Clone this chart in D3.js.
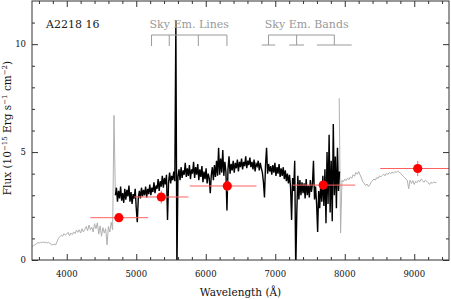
<!DOCTYPE html>
<html>
<head>
<meta charset="utf-8">
<script src="https://cdn.jsdelivr.net/npm/d3@7"></script>
<style>
  body { margin: 0; background: #fff; }
  svg { display: block; }
  text { font-family: "DejaVu Serif", serif; }
</style>
</head>
<body>
<div id="chart"></div>
<script>
// Gray spectrum, blue side (start 3500 A, step 20 A)
const blueStart = 3500, blueStep = 20;
const blueFlux = [0.62, 0.66, 0.70, 0.74, 0.80, 0.78, 0.82, 0.80, 0.84, 0.80,
  0.83, 0.79, 0.82, 0.76, 0.72, 0.70, 0.73, 0.70, 0.85, 1.00,
  1.08, 1.15, 1.10, 1.22, 1.15, 1.20, 1.28, 1.12, 1.25, 1.18,
  1.30, 1.22, 1.38, 1.28, 1.40, 1.25, 1.45, 1.30, 1.42, 1.55,
  1.35, 1.62, 1.40, 1.52, 1.30, 1.68, 1.45, 1.72, 1.20, 1.58,
  1.10, 1.50, 1.25, 1.45, 0.70, 1.55, 1.30, 1.75, 1.40, 6.70, 3.00];

// Black spectrum (start 4700 A, step 15 A)
const mainStart = 4700, mainStep = 15;
const mainFlux = [3.00, 3.35, 2.70, 3.20, 2.85, 3.40, 2.75, 3.10, 2.65, 3.30,
  2.80, 3.25, 2.95, 3.45, 2.70, 3.15, 2.60, 3.05, 2.85, 3.30,
  2.40, 1.75, 2.90, 3.20, 2.85, 3.35, 2.95, 3.25, 3.00, 3.40,
  2.90, 3.30, 3.05, 3.50, 3.00, 3.35, 3.15, 3.60, 3.10, 3.45,
  3.30, 3.75, 3.20, 3.65, 3.40, 3.90, 3.35, 3.80, 3.50, 3.95,
  1.85, 3.60, 4.05, 3.55, 3.90, 3.70, 4.10, 3.65, 11.1, -0.5,
  3.85, 4.20, 3.70, 4.30, 3.80, 4.15, 3.95, 4.50, 3.85, 4.25,
  3.90, 4.40, 3.75, 4.20, 4.00, 4.55, 3.80, 4.30, 3.95, 4.45,
  3.70, 4.20, 3.85, 4.35, 3.60, 4.10, 3.75, 4.25, 3.55, 4.00,
  3.80, 3.10, 3.95, 4.30, 3.70, 4.40, 3.85, 4.60, 3.90, 5.20,
  3.95, 4.70, 4.05, 5.10, 3.90, 4.55, 4.10, 2.30, 4.20, 4.80,
  4.00, 4.45, 4.15, 4.60, 4.05, 4.50, 4.25, 4.65, 4.10, 4.55,
  4.30, 4.70, 4.20, 4.55, 4.35, 4.80, 4.25, 4.60, 4.40, 4.75,
  4.30, 4.55, 4.20, 4.65, 4.10, 4.45, 4.35, 4.60, 4.15, 4.50,
  4.25, 4.05, 3.60, 2.90, 4.40, 5.20, 4.00, 4.45, 4.10, 4.35,
  3.95, 4.40, 4.05, 4.50, 3.90, 4.30, 4.00, 4.45, 3.85, 4.25,
  3.90, 4.30, 3.75, 4.15, 3.65, 4.00, 3.55, 3.95, 3.40, 1.85,
  3.80, 3.20, 4.60, -0.5, 2.20, 3.90, 2.80, 3.70, 3.00, 3.60,
  3.10, 3.55, 2.85, 3.75, 3.00, 3.45, 2.90, 3.70, 3.15, 3.50,
  4.60, 2.80, 3.40, 2.60, 1.30, 3.20, 2.40, 3.60, 2.70, 3.90,
  2.50, 4.20, 1.70, 5.00, 2.60, 5.80, 2.20, 4.60, 1.80, 6.30,
  3.00, 4.80, 2.40, 5.20, 3.20, 4.10];

// Gray spectrum, red side (start 7920 A, step 20 A)
const redStart = 7920, redStep = 20;
const redFlux = [7.50, 1.25, 3.70, 3.62, 3.75, 3.68, 3.80, 3.72, 3.85, 3.78,
  3.95, 3.88, 4.05, 3.98, 4.10, 3.95, 3.80, 3.62, 3.55, 3.45,
  3.52, 3.40, 3.48, 3.60, 3.68, 3.75, 3.70, 3.82, 3.78, 3.90,
  3.85, 3.92, 3.98, 3.90, 4.02, 3.96, 4.05, 4.00, 4.08, 4.02,
  4.10, 4.05, 4.12, 4.08, 4.02, 3.95, 3.88, 3.82, 3.75, 3.68,
  3.30, 3.70, 3.55, 3.68, 3.50, 3.65, 3.58, 3.70, 3.62, 3.75,
  3.68, 3.60, 3.70, 3.65, 3.58, 3.50, 3.60, 3.55, 3.62, 3.58, 3.60];

// Photometric points
const photWave = [4750, 5360, 6310, 7690, 9050];
const photLo = [4340, 4970, 5770, 7250, 8510];
const photHi = [5170, 5750, 6730, 8150, 9600];
const photFlux = [1.96, 2.92, 3.43, 3.47, 4.24];
const photErr = [0.12, 0.3, 0.25, 0.2, 0.35];

// Sky features
const skyLines = [5220, 5475, 5893, 6305];
const skyBandLo = [6805, 7200, 7600];
const skyBandHi = [7000, 7415, 8100];

const xMajor = [4000, 5000, 6000, 7000, 8000, 9000];
const yMajor = [0, 5, 10];

const W = 451, H = 300;
const mLeft = 32, mRight = 449, mTop = 1, mBottom = 260;

const svg = d3.select("#chart").append("svg")
  .attr("width", W).attr("height", H);

const x = d3.scaleLinear().domain([3500, 9500]).range([mLeft, mRight]);
const y = d3.scaleLinear().domain([0, 12]).range([mBottom, mTop]);

svg.append("clipPath").attr("id", "plot")
  .append("rect")
  .attr("x", mLeft).attr("y", mTop)
  .attr("width", mRight - mLeft).attr("height", mBottom - mTop);

const toPts = (start, step, arr) => arr.map((f, i) => [start + i * step, f]);
const line = d3.line().x(d => x(d[0])).y(d => y(d[1]));

const plot = svg.append("g").attr("clip-path", "url(#plot)");

plot.append("path").datum(toPts(blueStart, blueStep, blueFlux))
  .attr("d", line).attr("fill", "none")
  .attr("stroke", "#b0b0b0").attr("stroke-width", 1);
plot.append("path").datum(toPts(redStart, redStep, redFlux))
  .attr("d", line).attr("fill", "none")
  .attr("stroke", "#b0b0b0").attr("stroke-width", 1);
plot.append("path").datum(toPts(mainStart, mainStep, mainFlux))
  .attr("d", line).attr("fill", "none")
  .attr("stroke", "#000").attr("stroke-width", 1.4);

// error bars + points
const red = "#ff0000";
photWave.forEach((w, i) => {
  plot.append("line")
    .attr("x1", x(photLo[i])).attr("x2", x(photHi[i]))
    .attr("y1", y(photFlux[i])).attr("y2", y(photFlux[i]))
    .attr("stroke", "#ff6060").attr("stroke-width", 1);
  plot.append("line")
    .attr("x1", x(w)).attr("x2", x(w))
    .attr("y1", y(photFlux[i] - photErr[i])).attr("y2", y(photFlux[i] + photErr[i]))
    .attr("stroke", "#ff6060").attr("stroke-width", 1);
  plot.append("circle")
    .attr("cx", x(w)).attr("cy", y(photFlux[i]))
    .attr("r", 4.6).attr("fill", red);
});

// axes: inward ticks on all sides
const xMinor = d3.range(3600, 9500, 200).filter(v => !xMajor.includes(v));
const yMinor = d3.range(1, 12, 1).filter(v => !yMajor.includes(v));
const axisCol = "#333";

function ticks(axisFn, pos, vals, size, transform) {
  const g = svg.append("g").attr("transform", transform)
    .call(axisFn(pos).tickValues(vals).tickSize(-size).tickFormat(""));
  g.select(".domain").remove();
  g.selectAll("line").attr("stroke", axisCol);
  return g;
}
ticks(d3.axisBottom, x, xMajor, 6, `translate(0,${mBottom})`);
ticks(d3.axisBottom, x, xMinor, 3, `translate(0,${mBottom})`);
ticks(d3.axisTop, x, xMajor, 6, `translate(0,${mTop})`);
ticks(d3.axisTop, x, xMinor, 3, `translate(0,${mTop})`);
ticks(d3.axisLeft, y, yMajor, 6, `translate(${mLeft},0)`);
ticks(d3.axisLeft, y, yMinor, 3, `translate(${mLeft},0)`);
ticks(d3.axisRight, y, yMajor, 6, `translate(${mRight},0)`);
ticks(d3.axisRight, y, yMinor, 3, `translate(${mRight},0)`);

svg.append("rect")
  .attr("x", mLeft).attr("y", mTop)
  .attr("width", mRight - mLeft).attr("height", mBottom - mTop)
  .attr("fill", "none").attr("stroke", axisCol).attr("stroke-width", 1);

// tick labels
svg.append("g").selectAll("text").data(xMajor).join("text")
  .attr("x", d => x(d)).attr("y", 277)
  .attr("text-anchor", "middle").attr("font-size", "8.5px").attr("fill", "#111")
  .text(d => d);
svg.append("g").selectAll("text").data(yMajor).join("text")
  .attr("x", 26).attr("y", d => y(d) + 3)
  .attr("text-anchor", "end").attr("font-size", "8.5px").attr("fill", "#111")
  .text(d => d);

// axis titles
svg.append("text")
  .attr("x", (mLeft + mRight) / 2).attr("y", 296)
  .attr("text-anchor", "middle").attr("font-size", "10.5px").attr("fill", "#111")
  .text("Wavelength (Å)");

const yl = svg.append("text")
  .attr("transform", `translate(11,128) rotate(-90)`)
  .attr("text-anchor", "middle").attr("font-size", "10.5px").attr("fill", "#111");
yl.append("tspan").text("Flux (10");
yl.append("tspan").attr("font-size", "7px").attr("dy", -4).text("−15");
yl.append("tspan").attr("dy", 4).text(" Erg s");
yl.append("tspan").attr("font-size", "7px").attr("dy", -4).text("−1");
yl.append("tspan").attr("dy", 4).text(" cm");
yl.append("tspan").attr("font-size", "7px").attr("dy", -4).text("−2");
yl.append("tspan").attr("dy", 4).text(")");

// title
svg.append("text")
  .attr("x", 46).attr("y", 28)
  .attr("font-size", "11px").attr("fill", "#222")
  .text("A2218 16");

// sky annotations
const gray = "#999";
const ann = svg.append("g").attr("stroke", gray).attr("fill", "none").attr("stroke-width", 1);
svg.append("text").attr("x", x(d3.mean([skyLines[0], skyLines[3]]))).attr("y", 28)
  .attr("text-anchor", "middle").attr("font-size", "11px").attr("fill", gray)
  .text("Sky Em. Lines");
ann.append("line")
  .attr("x1", x(skyLines[0])).attr("x2", x(skyLines[skyLines.length - 1]))
  .attr("y1", 35).attr("y2", 35);
skyLines.forEach(w => {
  ann.append("line").attr("x1", x(w)).attr("x2", x(w)).attr("y1", 35).attr("y2", 46);
});

const bandMid = skyBandLo.map((lo, i) => (lo + skyBandHi[i]) / 2);
svg.append("text").attr("x", x(d3.mean([skyBandLo[0], skyBandHi[2]]))).attr("y", 28)
  .attr("text-anchor", "middle").attr("font-size", "11px").attr("fill", gray)
  .text("Sky Em. Bands");
ann.append("line")
  .attr("x1", x(bandMid[0])).attr("x2", x(bandMid[bandMid.length - 1]))
  .attr("y1", 35).attr("y2", 35);
bandMid.forEach((m, i) => {
  ann.append("line").attr("x1", x(m)).attr("x2", x(m)).attr("y1", 35).attr("y2", 45);
  ann.append("line").attr("x1", x(skyBandLo[i])).attr("x2", x(skyBandHi[i])).attr("y1", 45).attr("y2", 45);
});
</script>
</body>
</html>
